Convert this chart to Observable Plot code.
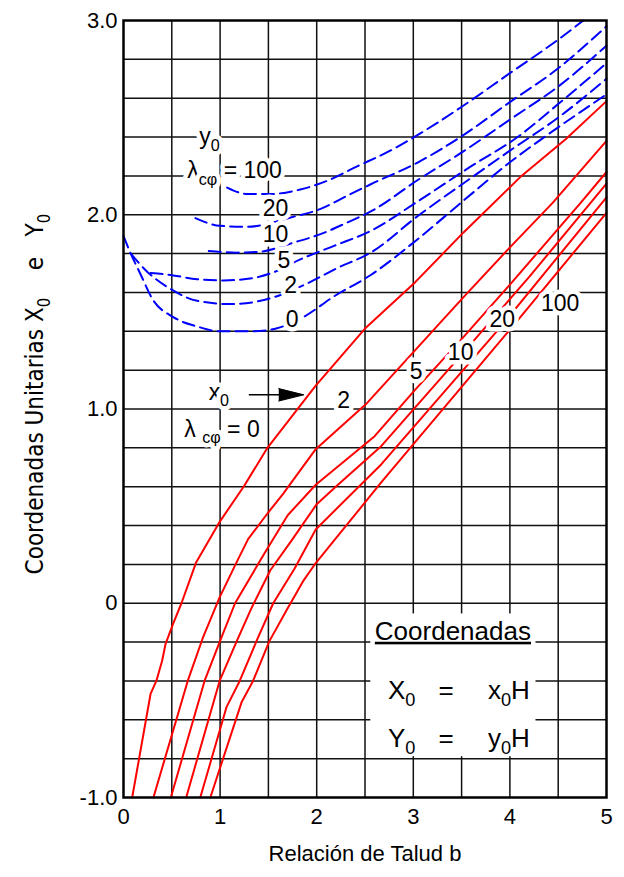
<!DOCTYPE html>
<html>
<head>
<meta charset="utf-8">
<script src="https://cdn.jsdelivr.net/npm/d3@7"></script>
<script src="https://cdn.jsdelivr.net/npm/@observablehq/plot@0.6"></script>
<style>
  body { margin: 0; background: #fff; }
</style>
</head>
<body>
<div id="chart"></div>
<script>
// Unit coordinates of the critical circle centre versus slope ratio b.
// Red solid: x0 for each λcφ; blue dashed: y0 for each λcφ.

const xTicks = [0, 1, 2, 3, 4, 5];
const xTickLabels = ["0", "1", "2", "3", "4", "5"];
const yTicks = [-1, 0, 1, 2, 3];
const yTickLabels = ["-1.0", "0", "1.0", "2.0", "3.0"];

// x0 curves: [b, x0]
const x0Lambda0 = [[0.09,-1.0],[0.28,-0.467],[0.34,-0.40],[0.40,-0.296],[0.435,-0.21],[0.51,-0.11],[0.60,0.0],[0.75,0.208],[0.99,0.415],[1.25,0.605],[1.49,0.80],[1.99,1.12],[2.5,1.414],[3.02,1.653],[3.52,1.909],[4.12,2.2],[4.58,2.39],[5.0,2.585]];
const x0Lambda2 = [[0.31,-1.0],[0.665,-0.40],[0.82,-0.18],[0.995,0.03],[1.16,0.2],[1.29,0.33],[1.49,0.462],[1.65,0.562],[1.99,0.793],[2.52,1.03],[3.02,1.303],[3.52,1.576],[4.0,1.832],[4.44,2.06],[5.0,2.38]];
const x0Lambda5 = [[0.49,-1.0],[0.839,-0.4],[1.003,-0.19],[1.155,0.0],[1.46,0.258],[1.70,0.453],[1.99,0.61],[2.6,0.86],[3.02,1.1],[3.5,1.36],[4.0,1.64],[4.73,2.06],[5.0,2.22]];
const x0Lambda10 = [[0.649,-1.0],[0.995,-0.4],[1.177,-0.19],[1.32,-0.03],[1.52,0.17],[1.75,0.33],[2.0,0.51],[2.22,0.61],[2.67,0.81],[3.5,1.28],[4.2,1.68],[5.0,2.16]];
const x0Lambda20 = [[0.795,-1.0],[1.066,-0.535],[1.203,-0.4],[1.39,-0.18],[1.55,0.0],[1.77,0.178],[1.99,0.38],[2.67,0.716],[3.9,1.42],[5.0,2.09]];
const x0Lambda100 = [[0.899,-1.0],[1.222,-0.51],[1.341,-0.4],[1.51,-0.195],[1.685,-0.039],[1.865,0.118],[1.99,0.207],[2.67,0.623],[4.07,1.45],[5.0,2.01]];

// y0 curves: [b, y0]
const y0Lambda0 = [[0.0,1.89],[0.075,1.80],[0.18,1.69],[0.30,1.566],[0.52,1.472],[0.76,1.425],[1.0,1.40],[1.35,1.40],[1.59,1.416],[1.85,1.47],[2.18,1.58],[2.56,1.69],[3.02,1.864],[3.52,2.073],[4.0,2.27],[4.5,2.45],[5.0,2.62]];
const y0Lambda2 = [[0.075,1.80],[0.245,1.707],[0.487,1.618],[0.763,1.557],[1.108,1.54],[1.418,1.557],[1.625,1.587],[1.9,1.646],[2.21,1.725],[2.56,1.805],[3.05,1.995],[3.6,2.19],[4.0,2.33],[4.5,2.5],[5.0,2.70]];
const y0Lambda5 = [[0.28,1.70],[0.487,1.69],[0.763,1.668],[1.04,1.662],[1.35,1.675],[1.556,1.704],[1.83,1.77],[2.18,1.84],[2.56,1.917],[3.05,2.07],[3.6,2.25],[4.08,2.40],[4.5,2.57],[5.0,2.78]];
const y0Lambda10 = [[0.883,1.813],[1.177,1.805],[1.418,1.81],[1.763,1.857],[2.04,1.90],[2.316,1.96],[2.56,2.017],[3.05,2.18],[3.53,2.33],[4.0,2.49],[4.5,2.66],[5.0,2.87]];
const y0Lambda20 = [[0.745,1.983],[1.0,1.943],[1.276,1.938],[1.73,1.986],[2.04,2.03],[2.316,2.098],[2.56,2.157],[3.05,2.27],[3.53,2.414],[4.0,2.58],[4.49,2.75],[5.0,2.97]];
const y0Lambda100 = [[1.073,2.14],[1.28,2.107],[1.52,2.107],[1.83,2.13],[2.11,2.175],[2.38,2.24],[2.8,2.34],[3.0,2.397],[3.49,2.552],[4.0,2.729],[4.49,2.898],[4.76,3.0]];

// Curve labels ([text, b, value]); "_{..}" marks a subscript
const y0Labels = [["y_{0}",0.89,2.40],["λ_{cφ} = 100",1.15,2.225],["20",1.573,2.03],["10",1.573,1.90],["5",1.66,1.762],["2",1.73,1.633],["0",1.746,1.462]];
const x0Labels = [["x_{0}",0.987,1.084],["λ _{cφ} = 0",1.02,0.896],["2",2.28,1.042],["5",3.03,1.19],["10",3.49,1.29],["20",3.92,1.462],["100",4.52,1.54]];

// Pointer from the x0 label to the λcφ = 0 curve
const x0Arrow = [{from: 1.297, to: 1.867, at: 1.073}];

// Definition panel
const panelBox = [{x1: 2.56, x2: 4.27, y1: -0.79, y2: -0.055}];
const panelRows = [
  ["Coordenadas", 3.41, -0.145],
  ["X_{0}", 2.88, -0.45], ["=", 3.34, -0.45], ["x_{0}H", 3.99, -0.45],
  ["Y_{0}", 2.88, -0.697], ["=", 3.34, -0.697], ["y_{0}H", 3.99, -0.697]
];

const gridX = d3.range(1, 10).map(i => i * 0.5);
const gridY = d3.range(1, 20).map(i => -1 + i * 0.2);

const toRows = (series) => series.flatMap(([lambda, pts]) => pts.map(([b, v]) => ({lambda, b, v})));
const x0Rows = toRows([[0, x0Lambda0], [2, x0Lambda2], [5, x0Lambda5], [10, x0Lambda10], [20, x0Lambda20], [100, x0Lambda100]]);
const y0Rows = toRows([[0, y0Lambda0], [2, y0Lambda2], [5, y0Lambda5], [10, y0Lambda10], [20, y0Lambda20], [100, y0Lambda100]]);
const labelRows = (arr) => arr.map(([text, b, v]) => ({text, b, v}));

const headLen = 0.26, headHalf = 0.032;
const arrowShaft = x0Arrow.map(a => ({x1: a.from, x2: a.to - headLen * 0.9, y: a.at}));
const arrowHead = x0Arrow.flatMap(a => [
  {b: a.to - headLen, v: a.at + headHalf},
  {b: a.to, v: a.at},
  {b: a.to - headLen, v: a.at - headHalf}
]);

const xFmt = new Map(xTicks.map((t, i) => [t, xTickLabels[i]]));
const yFmt = new Map(yTicks.map((t, i) => [t, yTickLabels[i]]));

const labelStyle = {x: "b", y: "v", text: "text", fontSize: 23, fill: "black", stroke: "white", strokeWidth: 9, paintOrder: "stroke"};

const plot = Plot.plot({
  width: 624,
  height: 877,
  marginTop: 20,
  marginRight: 18,
  marginBottom: 80,
  marginLeft: 123,
  style: {fontFamily: "'Liberation Sans', Arial, sans-serif", fontSize: "22px", color: "black", background: "white"},
  x: {domain: [0, 5], ticks: xTicks, tickFormat: d => xFmt.get(d), tickSize: 0, tickPadding: 11, label: null},
  y: {domain: [-1, 3], ticks: yTicks, tickFormat: d => yFmt.get(d), tickSize: 0, tickPadding: 6, label: null},
  marks: [
    Plot.ruleX(gridX, {stroke: "#111", strokeWidth: 1.5}),
    Plot.ruleY(gridY, {stroke: "#111", strokeWidth: 1.5}),
    Plot.rect(panelBox, {x1: "x1", x2: "x2", y1: "y1", y2: "y2", fill: "white"}),
    Plot.line(y0Rows, {x: "b", y: "v", z: "lambda", stroke: "#0000ff", strokeWidth: 2, strokeDasharray: "12,6", curve: "monotone-x"}),
    Plot.line(x0Rows, {x: "b", y: "v", z: "lambda", stroke: "#ff0000", strokeWidth: 2}),
    Plot.text(labelRows(y0Labels), labelStyle),
    Plot.text(labelRows(x0Labels), labelStyle),
    Plot.link(arrowShaft, {x1: "x1", x2: "x2", y1: "y", y2: "y", stroke: "black", strokeWidth: 1.5}),
    Plot.line(arrowHead, {x: "b", y: "v", fill: "black", stroke: "black", strokeWidth: 1}),
    Plot.text(labelRows(panelRows), {x: "b", y: "v", text: "text", fontSize: 26, fill: "black"}),
    Plot.frame({stroke: "black", strokeWidth: 2.5}),
    Plot.text(["Relación de Talud b"], {frameAnchor: "bottom", dy: 63, fontSize: 22, fill: "black"}),
    Plot.text(["Coordenadas Unitarias X_{0}    e   Y_{0}"], {frameAnchor: "left", textAnchor: "middle", dx: -88, dy: -15, rotate: -90, fontSize: 24, fill: "black",
      fontFamily: "'Liberation Sans Narrow', 'Arial Narrow', 'DejaVu Sans Condensed', sans-serif"})
  ]
});

// Turn "_{..}" markup into lowered, smaller tspans; underline the panel heading
d3.select(plot).selectAll("text").each(function () {
  const s = this.textContent;
  if (s === "Coordenadas") { this.setAttribute("text-decoration", "underline"); return; }
  if (!s.includes("_{")) return;
  const el = d3.select(this);
  el.text(null).attr("xml:space", "preserve").style("white-space", "pre");
  const parts = s.split(/_\{([^}]*)\}/);
  parts.forEach((p, i) => {
    if (!p) return;
    const sub = i % 2 === 1;
    const t = el.append("tspan").text(p);
    if (sub) t.attr("font-size", "0.7em").attr("dy", "0.4em");
    else if (i > 0) t.attr("dy", "-0.28em");
  });
});

document.getElementById("chart").appendChild(plot);
</script>
</body>
</html>
